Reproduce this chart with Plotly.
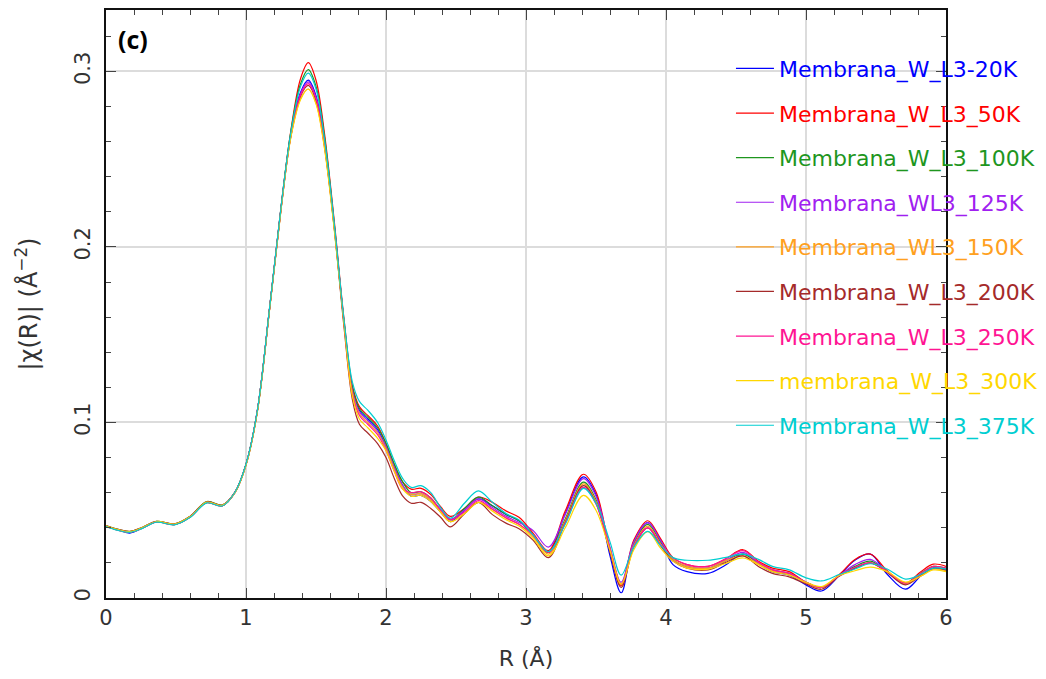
import plotly.graph_objects as go

R = [0.00, 0.08, 0.17, 0.26, 0.36, 0.49, 0.60, 0.72, 0.83, 0.92,
     1.00, 1.08, 1.17, 1.25, 1.32, 1.39, 1.445, 1.50, 1.56, 1.63,
     1.70, 1.76, 1.81, 1.87, 1.94, 2.00, 2.06, 2.12, 2.18, 2.25,
     2.32, 2.39, 2.46, 2.56, 2.66, 2.76, 2.86, 2.95, 3.05, 3.16,
     3.28, 3.41, 3.50, 3.60, 3.68, 3.77, 3.87, 3.96, 4.05, 4.15,
     4.30, 4.42, 4.55, 4.66, 4.76, 4.88, 5.00, 5.11, 5.24, 5.35,
     5.46, 5.58, 5.71, 5.82, 5.91, 6.00]

w_20K = [0.0410, 0.0388, 0.0370, 0.0398, 0.0433, 0.0418, 0.0460, 0.0543, 0.0525, 0.0600,
         0.0760, 0.1060, 0.1660, 0.2220, 0.2638, 0.2882, 0.2950, 0.2862, 0.2595, 0.2120,
         0.1570, 0.1190, 0.1070, 0.1020, 0.0960, 0.0860, 0.0740, 0.0640, 0.0580, 0.0585,
         0.0550, 0.0490, 0.0435, 0.0500, 0.0565, 0.0525, 0.0475, 0.0440, 0.0360, 0.0260,
         0.0480, 0.0690, 0.0590, 0.0240, 0.0030, 0.0320, 0.0430, 0.0330, 0.0190, 0.0150,
         0.0140, 0.0185, 0.0250, 0.0195, 0.0150, 0.0130, 0.0075, 0.0040, 0.0130, 0.0215,
         0.0250, 0.0135, 0.0050, 0.0125, 0.0170, 0.0160]

w_50K = [0.0408, 0.0389, 0.0376, 0.0399, 0.0434, 0.0419, 0.0461, 0.0544, 0.0526, 0.0600,
         0.0760, 0.1060, 0.1660, 0.2225, 0.2660, 0.2960, 0.3050, 0.2950, 0.2650, 0.2150,
         0.1590, 0.1210, 0.1090, 0.1040, 0.0980, 0.0880, 0.0760, 0.0660, 0.0620, 0.0625,
         0.0590, 0.0520, 0.0465, 0.0510, 0.0575, 0.0545, 0.0495, 0.0460, 0.0370, 0.0270,
         0.0495, 0.0705, 0.0605, 0.0270, 0.0070, 0.0330, 0.0440, 0.0340, 0.0230, 0.0190,
         0.0180, 0.0220, 0.0275, 0.0210, 0.0170, 0.0150, 0.0090, 0.0060, 0.0135, 0.0220,
         0.0250, 0.0155, 0.0085, 0.0150, 0.0193, 0.0180]

w_100K = [0.0412, 0.0392, 0.0379, 0.0402, 0.0437, 0.0422, 0.0465, 0.0550, 0.0530, 0.0602,
          0.0762, 0.1062, 0.1662, 0.2225, 0.2655, 0.2930, 0.3010, 0.2915, 0.2630, 0.2135,
          0.1575, 0.1200, 0.1080, 0.1030, 0.0970, 0.0880, 0.0760, 0.0660, 0.0600, 0.0605,
          0.0570, 0.0500, 0.0445, 0.0510, 0.0575, 0.0525, 0.0475, 0.0440, 0.0360, 0.0260,
          0.0450, 0.0660, 0.0560, 0.0280, 0.0080, 0.0310, 0.0420, 0.0320, 0.0220, 0.0180,
          0.0170, 0.0210, 0.0250, 0.0200, 0.0160, 0.0140, 0.0090, 0.0060, 0.0130, 0.0180,
          0.0210, 0.0150, 0.0080, 0.0140, 0.0180, 0.0170]

w_125K = [0.0410, 0.0390, 0.0377, 0.0400, 0.0435, 0.0420, 0.0462, 0.0545, 0.0527, 0.0600,
          0.0760, 0.1060, 0.1660, 0.2218, 0.2635, 0.2875, 0.2940, 0.2852, 0.2590, 0.2120,
          0.1570, 0.1180, 0.1060, 0.1010, 0.0950, 0.0860, 0.0740, 0.0640, 0.0590, 0.0595,
          0.0560, 0.0505, 0.0450, 0.0500, 0.0565, 0.0515, 0.0465, 0.0430, 0.0385, 0.0290,
          0.0475, 0.0680, 0.0580, 0.0290, 0.0090, 0.0320, 0.0430, 0.0330, 0.0220, 0.0180,
          0.0170, 0.0210, 0.0260, 0.0200, 0.0160, 0.0140, 0.0090, 0.0060, 0.0130, 0.0190,
          0.0220, 0.0150, 0.0080, 0.0130, 0.0170, 0.0160]

w_150K = [0.0408, 0.0388, 0.0375, 0.0398, 0.0433, 0.0418, 0.0460, 0.0543, 0.0525, 0.0598,
          0.0757, 0.1055, 0.1655, 0.2212, 0.2625, 0.2845, 0.2900, 0.2820, 0.2570, 0.2110,
          0.1565, 0.1170, 0.1050, 0.1000, 0.0940, 0.0850, 0.0730, 0.0630, 0.0590, 0.0595,
          0.0560, 0.0490, 0.0435, 0.0480, 0.0545, 0.0505, 0.0455, 0.0420, 0.0350, 0.0250,
          0.0440, 0.0650, 0.0550, 0.0280, 0.0075, 0.0300, 0.0410, 0.0310, 0.0220, 0.0180,
          0.0170, 0.0210, 0.0240, 0.0195, 0.0155, 0.0135, 0.0085, 0.0060, 0.0130, 0.0170,
          0.0200, 0.0150, 0.0080, 0.0125, 0.0165, 0.0155]

w_200K = [0.0413, 0.0392, 0.0380, 0.0403, 0.0437, 0.0422, 0.0465, 0.0548, 0.0529, 0.0601,
          0.0760, 0.1060, 0.1660, 0.2215, 0.2630, 0.2860, 0.2920, 0.2835, 0.2580, 0.2110,
          0.1545, 0.1130, 0.0990, 0.0940, 0.0880, 0.0800, 0.0680, 0.0580, 0.0540, 0.0545,
          0.0510, 0.0460, 0.0405, 0.0480, 0.0545, 0.0475, 0.0425, 0.0395, 0.0330, 0.0230,
          0.0430, 0.0640, 0.0540, 0.0260, 0.0060, 0.0290, 0.0400, 0.0300, 0.0210, 0.0170,
          0.0160, 0.0200, 0.0240, 0.0180, 0.0140, 0.0120, 0.0080, 0.0050, 0.0125, 0.0170,
          0.0200, 0.0145, 0.0075, 0.0130, 0.0170, 0.0160]

w_250K = [0.0409, 0.0389, 0.0376, 0.0399, 0.0434, 0.0419, 0.0461, 0.0544, 0.0526, 0.0600,
          0.0760, 0.1060, 0.1660, 0.2216, 0.2630, 0.2865, 0.2930, 0.2845, 0.2585, 0.2118,
          0.1565, 0.1160, 0.1040, 0.0990, 0.0930, 0.0840, 0.0720, 0.0620, 0.0600, 0.0605,
          0.0570, 0.0500, 0.0445, 0.0490, 0.0555, 0.0505, 0.0455, 0.0420, 0.0360, 0.0260,
          0.0425, 0.0630, 0.0535, 0.0280, 0.0080, 0.0295, 0.0400, 0.0305, 0.0230, 0.0190,
          0.0180, 0.0220, 0.0270, 0.0205, 0.0160, 0.0140, 0.0090, 0.0060, 0.0130, 0.0175,
          0.0200, 0.0150, 0.0085, 0.0140, 0.0180, 0.0170]

w_300K = [0.0411, 0.0391, 0.0378, 0.0401, 0.0436, 0.0421, 0.0463, 0.0546, 0.0528, 0.0599,
          0.0756, 0.1054, 0.1654, 0.2210, 0.2622, 0.2840, 0.2900, 0.2815, 0.2565, 0.2100,
          0.1560, 0.1150, 0.1020, 0.0970, 0.0910, 0.0840, 0.0720, 0.0620, 0.0580, 0.0585,
          0.0550, 0.0490, 0.0435, 0.0480, 0.0545, 0.0495, 0.0445, 0.0410, 0.0340, 0.0240,
          0.0400, 0.0585, 0.0500, 0.0270, 0.0080, 0.0275, 0.0378, 0.0285, 0.0210, 0.0170,
          0.0165, 0.0195, 0.0228, 0.0190, 0.0150, 0.0130, 0.0090, 0.0065, 0.0130, 0.0155,
          0.0176, 0.0150, 0.0090, 0.0125, 0.0160, 0.0150]

w_375K = [0.0407, 0.0387, 0.0374, 0.0397, 0.0432, 0.0417, 0.0459, 0.0542, 0.0524, 0.0601,
          0.0763, 0.1063, 0.1664, 0.2225, 0.2650, 0.2915, 0.2990, 0.2900, 0.2620, 0.2135,
          0.1585, 0.1230, 0.1120, 0.1070, 0.1000, 0.0900, 0.0780, 0.0680, 0.0630, 0.0640,
          0.0600, 0.0515, 0.0455, 0.0540, 0.0610, 0.0545, 0.0480, 0.0445, 0.0360, 0.0265,
          0.0420, 0.0625, 0.0540, 0.0320, 0.0130, 0.0290, 0.0380, 0.0300, 0.0230, 0.0215,
          0.0215, 0.0230, 0.0250, 0.0220, 0.0180, 0.0160, 0.0115, 0.0097, 0.0135, 0.0165,
          0.0195, 0.0165, 0.0108, 0.0135, 0.0170, 0.0165]

names = ["Membrana_W_L3-20K", "Membrana_W_L3_50K", "Membrana_W_L3_100K",
         "Membrana_WL3_125K", "Membrana_WL3_150K", "Membrana_W_L3_200K",
         "Membrana_W_L3_250K", "membrana_W_L3_300K", "Membrana_W_L3_375K"]
colors = ["#0000ff", "#ff0000", "#1e961e", "#a020f0", "#ffa020",
          "#a52a2a", "#ff1493", "#ffd700", "#00ced1"]
series = [w_20K, w_50K, w_100K, w_125K, w_150K, w_200K, w_250K, w_300K, w_375K]

x_ticks = [0, 1, 2, 3, 4, 5, 6]
y_ticks = [0, 0.1, 0.2, 0.3]
y_tick_text = ["0", "0.1", "0.2", "0.3"]

fig = go.Figure()
for nm, col, ys in zip(names, colors, series):
    fig.add_trace(go.Scatter(
        x=R, y=ys, mode="lines", line=dict(color=col, width=1.2, shape="spline", smoothing=1.0),
        name=f'<span style="color:{col}">{nm}</span>', legendgroup=nm,
    ))

tick_font = dict(family="DejaVu Sans", size=21, color="#333333")
title_font = dict(family="DejaVu Sans", size=22, color="#333333")
fig.update_layout(
    width=1046, height=679,
    margin=dict(l=98, r=108, t=0, b=89),
    paper_bgcolor="white", plot_bgcolor="white",
    showlegend=True,
    legend=dict(x=0.744, y=0.936, xanchor="left", yanchor="top",
                bgcolor="rgba(0,0,0,0)", font=dict(family="DejaVu Sans", size=22),
                tracegroupgap=13, itemwidth=38),
    xaxis=dict(range=[0, 6], tickvals=x_ticks, ticks="inside", ticklen=10, tickwidth=1.2,
               tickcolor="#444", showline=True, linecolor="#111", linewidth=1.5, mirror="ticks",
               showgrid=True, gridcolor="#dcdcdc", gridwidth=1.5, zeroline=False,
               tickfont=tick_font,
               minor=dict(dtick=0.2, ticks="inside", ticklen=5, tickcolor="#444", showgrid=False),
               title=dict(text="R (Å)", font=title_font, standoff=22)),
    yaxis=dict(range=[0, 0.335], tickvals=y_ticks, ticktext=y_tick_text, tickangle=-90,
               ticks="inside", ticklen=10, tickwidth=1.2, tickcolor="#444",
               showline=True, linecolor="#111", linewidth=1.5, mirror="ticks",
               showgrid=True, gridcolor="#dcdcdc", gridwidth=1.5, zeroline=False,
               tickfont=tick_font, ticklabelstandoff=6,
               minor=dict(dtick=0.02, ticks="inside", ticklen=5, tickcolor="#444", showgrid=False),
               title=dict(text="|χ(R)| (Å<sup>−2</sup>)", font=dict(family="DejaVu Sans", size=24, color="#333333"), standoff=26)),
)
fig.add_annotation(text="<b>(c)</b>", xref="paper", yref="paper", x=0.012, y=0.95,
                   xanchor="left", yanchor="middle", showarrow=False,
                   font=dict(family="Open Sans", size=25, color="black"))
fig.write_html("out.html")
